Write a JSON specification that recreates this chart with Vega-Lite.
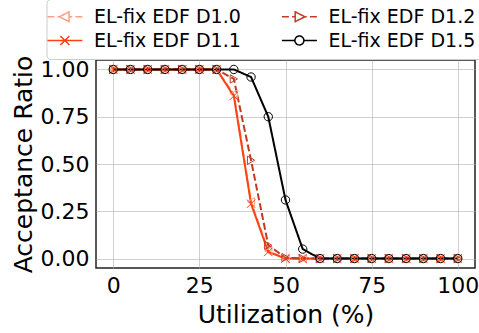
{
  "$schema": "https://vega.github.io/schema/vega-lite/v6.json",
  "width": 379,
  "height": 208,
  "autosize": "none",
  "padding": {"left": 96, "top": 60, "right": 4, "bottom": 65},
  "background": "white",
  "config": {
    "font": "DejaVu Sans",
    "view": {"stroke": "#222222", "strokeWidth": 1.5},
    "axis": {"grid": true, "gridColor": "#b0b0b0", "gridOpacity": 0.6, "gridWidth": 1, "domain": false, "ticks": false, "labelColor": "black", "titleColor": "black", "labelFont": "DejaVu Sans", "titleFont": "DejaVu Sans", "titleFontWeight": "normal"}
  },
  "data": {"values": [
    {"u": 0, "s": "EL-fix EDF D1.0", "r": 1}, {"u": 5, "s": "EL-fix EDF D1.0", "r": 1}, {"u": 10, "s": "EL-fix EDF D1.0", "r": 1}, {"u": 15, "s": "EL-fix EDF D1.0", "r": 1}, {"u": 20, "s": "EL-fix EDF D1.0", "r": 1}, {"u": 25, "s": "EL-fix EDF D1.0", "r": 1}, {"u": 30, "s": "EL-fix EDF D1.0", "r": 1}, {"u": 35, "s": "EL-fix EDF D1.0", "r": 0.87}, {"u": 40, "s": "EL-fix EDF D1.0", "r": 0.3}, {"u": 45, "s": "EL-fix EDF D1.0", "r": 0.04}, {"u": 50, "s": "EL-fix EDF D1.0", "r": 0}, {"u": 55, "s": "EL-fix EDF D1.0", "r": 0}, {"u": 60, "s": "EL-fix EDF D1.0", "r": 0}, {"u": 65, "s": "EL-fix EDF D1.0", "r": 0}, {"u": 70, "s": "EL-fix EDF D1.0", "r": 0}, {"u": 75, "s": "EL-fix EDF D1.0", "r": 0}, {"u": 80, "s": "EL-fix EDF D1.0", "r": 0}, {"u": 85, "s": "EL-fix EDF D1.0", "r": 0}, {"u": 90, "s": "EL-fix EDF D1.0", "r": 0}, {"u": 95, "s": "EL-fix EDF D1.0", "r": 0}, {"u": 100, "s": "EL-fix EDF D1.0", "r": 0},
    {"u": 0, "s": "EL-fix EDF D1.1", "r": 1}, {"u": 5, "s": "EL-fix EDF D1.1", "r": 1}, {"u": 10, "s": "EL-fix EDF D1.1", "r": 1}, {"u": 15, "s": "EL-fix EDF D1.1", "r": 1}, {"u": 20, "s": "EL-fix EDF D1.1", "r": 1}, {"u": 25, "s": "EL-fix EDF D1.1", "r": 1}, {"u": 30, "s": "EL-fix EDF D1.1", "r": 1}, {"u": 35, "s": "EL-fix EDF D1.1", "r": 0.86}, {"u": 40, "s": "EL-fix EDF D1.1", "r": 0.29}, {"u": 45, "s": "EL-fix EDF D1.1", "r": 0.035}, {"u": 50, "s": "EL-fix EDF D1.1", "r": 0}, {"u": 55, "s": "EL-fix EDF D1.1", "r": 0}, {"u": 60, "s": "EL-fix EDF D1.1", "r": 0}, {"u": 65, "s": "EL-fix EDF D1.1", "r": 0}, {"u": 70, "s": "EL-fix EDF D1.1", "r": 0}, {"u": 75, "s": "EL-fix EDF D1.1", "r": 0}, {"u": 80, "s": "EL-fix EDF D1.1", "r": 0}, {"u": 85, "s": "EL-fix EDF D1.1", "r": 0}, {"u": 90, "s": "EL-fix EDF D1.1", "r": 0}, {"u": 95, "s": "EL-fix EDF D1.1", "r": 0}, {"u": 100, "s": "EL-fix EDF D1.1", "r": 0},
    {"u": 0, "s": "EL-fix EDF D1.2", "r": 1}, {"u": 5, "s": "EL-fix EDF D1.2", "r": 1}, {"u": 10, "s": "EL-fix EDF D1.2", "r": 1}, {"u": 15, "s": "EL-fix EDF D1.2", "r": 1}, {"u": 20, "s": "EL-fix EDF D1.2", "r": 1}, {"u": 25, "s": "EL-fix EDF D1.2", "r": 1}, {"u": 30, "s": "EL-fix EDF D1.2", "r": 1}, {"u": 35, "s": "EL-fix EDF D1.2", "r": 0.95}, {"u": 40, "s": "EL-fix EDF D1.2", "r": 0.52}, {"u": 45, "s": "EL-fix EDF D1.2", "r": 0.07}, {"u": 50, "s": "EL-fix EDF D1.2", "r": 0.005}, {"u": 55, "s": "EL-fix EDF D1.2", "r": 0}, {"u": 60, "s": "EL-fix EDF D1.2", "r": 0}, {"u": 65, "s": "EL-fix EDF D1.2", "r": 0}, {"u": 70, "s": "EL-fix EDF D1.2", "r": 0}, {"u": 75, "s": "EL-fix EDF D1.2", "r": 0}, {"u": 80, "s": "EL-fix EDF D1.2", "r": 0}, {"u": 85, "s": "EL-fix EDF D1.2", "r": 0}, {"u": 90, "s": "EL-fix EDF D1.2", "r": 0}, {"u": 95, "s": "EL-fix EDF D1.2", "r": 0}, {"u": 100, "s": "EL-fix EDF D1.2", "r": 0},
    {"u": 0, "s": "EL-fix EDF D1.5", "r": 1}, {"u": 5, "s": "EL-fix EDF D1.5", "r": 1}, {"u": 10, "s": "EL-fix EDF D1.5", "r": 1}, {"u": 15, "s": "EL-fix EDF D1.5", "r": 1}, {"u": 20, "s": "EL-fix EDF D1.5", "r": 1}, {"u": 25, "s": "EL-fix EDF D1.5", "r": 1}, {"u": 30, "s": "EL-fix EDF D1.5", "r": 1}, {"u": 35, "s": "EL-fix EDF D1.5", "r": 1}, {"u": 40, "s": "EL-fix EDF D1.5", "r": 0.96}, {"u": 45, "s": "EL-fix EDF D1.5", "r": 0.75}, {"u": 50, "s": "EL-fix EDF D1.5", "r": 0.31}, {"u": 55, "s": "EL-fix EDF D1.5", "r": 0.05}, {"u": 60, "s": "EL-fix EDF D1.5", "r": 0}, {"u": 65, "s": "EL-fix EDF D1.5", "r": 0}, {"u": 70, "s": "EL-fix EDF D1.5", "r": 0}, {"u": 75, "s": "EL-fix EDF D1.5", "r": 0}, {"u": 80, "s": "EL-fix EDF D1.5", "r": 0}, {"u": 85, "s": "EL-fix EDF D1.5", "r": 0}, {"u": 90, "s": "EL-fix EDF D1.5", "r": 0}, {"u": 95, "s": "EL-fix EDF D1.5", "r": 0}, {"u": 100, "s": "EL-fix EDF D1.5", "r": 0}
  ]},
  "encoding": {
    "x": {"field": "u", "type": "quantitative", "scale": {"domain": [-5, 105], "nice": false, "zero": false},
      "axis": {"values": [0, 25, 50, 75, 100], "title": "Utilization (%)", "labelFontSize": 22, "titleFontSize": 25, "labelPadding": 7, "titlePadding": 6}},
    "y": {"field": "r", "type": "quantitative", "scale": {"domain": [-0.05, 1.05], "nice": false, "zero": false},
      "axis": {"values": [0, 0.25, 0.5, 0.75, 1], "format": ".2f", "title": "Acceptance Ratio", "labelFontSize": 22, "titleFontSize": 25, "labelPadding": 7, "titlePadding": 4}}
  },
  "layer": [
    {
      "mark": {"type": "line", "strokeWidth": 2},
      "encoding": {
        "strokeDash": {"field": "s", "type": "nominal", "legend": null,
          "scale": {"domain": ["EL-fix EDF D1.1", "EL-fix EDF D1.0", "EL-fix EDF D1.5", "EL-fix EDF D1.2"], "range": [[1, 0], [7, 3], [1, 0], [7, 3]]}},
        "color": {"field": "s", "type": "nominal",
          "scale": {"domain": ["EL-fix EDF D1.0", "EL-fix EDF D1.1", "EL-fix EDF D1.2", "EL-fix EDF D1.5"], "range": ["#fc9f85", "#ff4112", "#c23b22", "#000000"]},
          "legend": {
            "title": null, "orient": "none", "legendX": -49.5, "legendY": -61, "columns": 2,
            "labelFontSize": 19, "labelFont": "DejaVu Sans", "labelColor": "black", "labelLimit": 400,
            "symbolSize": 196, "symbolStrokeWidth": 1.5, "symbolOffset": 10, "labelOffset": 10.5,
            "padding": 8, "rowPadding": 4, "columnPadding": 36.5,
            "strokeColor": "#cccccc", "cornerRadius": 4, "fillColor": "white",
            "encode": {"symbols": {"update": {
              "shape": {"signal": "datum.value == 'EL-fix EDF D1.0' ? 'M-3.8,0L-2.8,0M-2.35,0L-2.05,0M-2.1,0L-0.7,-0.7L-0.7,0.7ZM-0.7,0L-0.25,0M0.2,0L1.2,0' : datum.value == 'EL-fix EDF D1.1' ? 'M-3.8,0L1.2,0M-1.95,-0.65L-0.65,0.65M-1.95,0.65L-0.65,-0.65' : datum.value == 'EL-fix EDF D1.2' ? 'M-3.8,0L-2.8,0M-2.35,0L-1.9,0M-0.5,0L-1.9,-0.7L-1.9,0.7ZM-0.5,0L-0.25,0M0.2,0L1.2,0' : 'M-3.8,0L-1.94,0M-0.66,0L1.2,0M-1.94,0A0.64,0.64 0 1 0 -0.66,0A0.64,0.64 0 1 0 -1.94,0'"},
              "strokeDash": {"value": [1, 0]},
              "fill": {"value": "transparent"}
            }}}
          }}
      }
    },
    {
      "mark": {"type": "point", "filled": false, "strokeWidth": 1, "size": 70, "opacity": 1},
      "encoding": {
        "color": {"field": "s", "type": "nominal", "legend": null},
        "shape": {"field": "s", "type": "nominal", "legend": null,
          "scale": {"domain": ["EL-fix EDF D1.5", "EL-fix EDF D1.2", "EL-fix EDF D1.1", "EL-fix EDF D1.0"], "range": ["circle", "triangle-right", "M-1,-1L1,1M-1,1L1,-1", "triangle-left"]}}
      }
    }
  ]
}
